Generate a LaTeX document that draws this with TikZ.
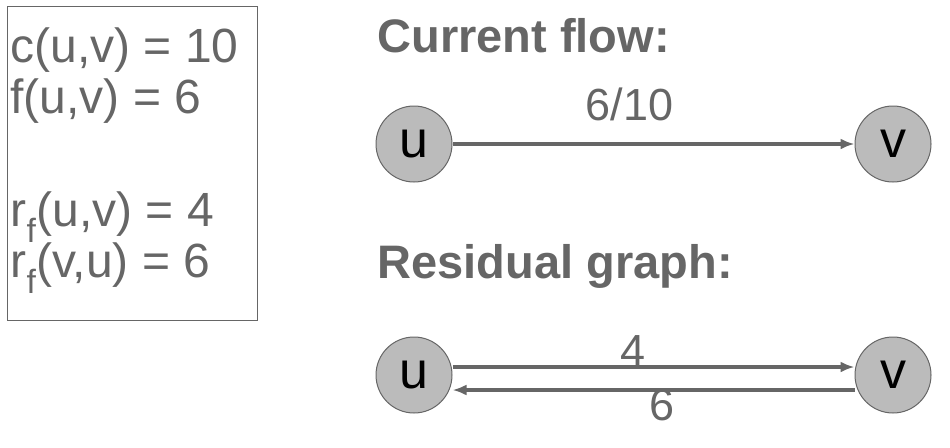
\documentclass[tikz,border=0pt]{standalone}
\usepackage{fontspec}
\setmainfont{Liberation Sans}
\usetikzlibrary{arrows.meta}
\definecolor{txtgray}{HTML}{666666}
\definecolor{nodegray}{HTML}{BBBBBB}
\tikzset{
  vert/.style={circle, draw=txtgray, fill=nodegray, line width=1pt, minimum size=76pt, inner sep=0pt, font=\fontsize{52}{52}\selectfont, text=black},
  edge/.style={draw=txtgray, line width=3.2pt, -{Latex[length=14pt,width=11pt]}},
  lbl/.style={text=txtgray, font=\fontsize{45}{45}\selectfont},
  side/.style={text=txtgray, font=\fontsize{48}{48}\selectfont, anchor=west},
  ttl/.style={text=txtgray, font=\fontsize{47}{47}\selectfont\bfseries, anchor=west}
}
\begin{document}
\begin{tikzpicture}[x=1pt, y=-1pt]
  \useasboundingbox (0,0) rectangle (950,447);
  \draw[txtgray, line width=0.8pt] (7,6) rectangle (257,320);
  \node[side] (cuv) at (7,50) {c(u,v) = 10};
  \node[side] (fuv) at (7,101) {f(u,v) = 6};
  \node[side] (ruv) at (7,217) {r\textsubscript{f}(u,v) = 4};
  \node[side] (rvu) at (7,268) {r\textsubscript{f}(v,u) = 6};
  % current flow
  \node[ttl] (cur) at (374,36) {Current flow:};
  \node[vert] (u1) at (414,144) {u};
  \node[vert] (v1) at (893,144) {v};
  \draw[edge] (u1) -- (v1) node[lbl, pos=0.44, above=18pt] {6/10};
  % residual graph
  \node[ttl] (res) at (374,266) {Residual graph:};
  \node[vert] (u2) at (414,375) {u};
  \node[vert] (v2) at (893,375) {v};
  \draw[edge] (u2.east |- 0,367) -- (v2.west |- 0,367) node[lbl, pos=0.45, above=-4pt] {4};
  \draw[edge] (v2.west |- 0,390) -- (u2.east |- 0,390) node[lbl, pos=0.48, below=-6pt] {6};
\end{tikzpicture}
\end{document}
